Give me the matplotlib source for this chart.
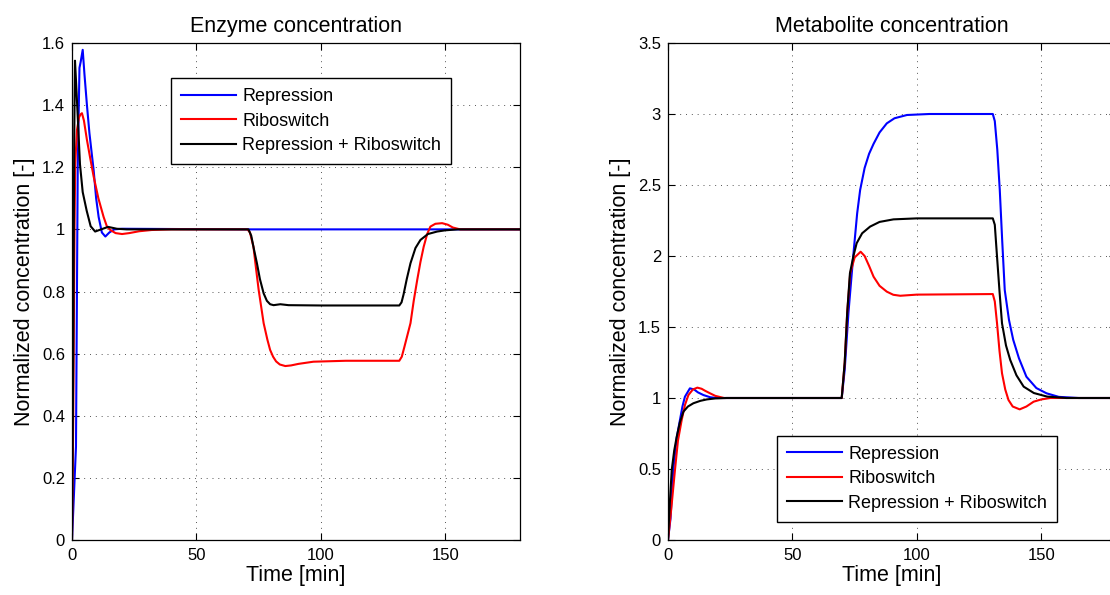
import matplotlib
matplotlib.use('Agg')
import matplotlib.pyplot as plt
from matplotlib.ticker import FuncFormatter

plt.rcParams['font.family'] = ['Liberation Sans', 'DejaVu Sans']

# ---- enzyme concentration (left) ----
enz_rep_t = [0, 1.6, 2.3, 3.0, 3.5, 4.3, 5.0, 6.0, 7.0, 8.7, 9.7, 10.7, 12.0, 13.4, 15.0, 17.0, 20, 70, 130, 180]
enz_rep_y = [0, 0.3, 1.2, 1.52, 1.54, 1.578, 1.50, 1.40, 1.31, 1.19, 1.10, 1.04, 0.99, 0.977, 0.99, 1.0, 1.002, 1.0, 1.0, 1.0]

enz_ribo_t = [0, 0.5, 1.0, 1.3, 2.0, 2.8, 3.4, 4.0, 4.8, 6.0, 7.3, 8.7, 10.6, 12.7, 14.0, 15.4, 17.5, 20.1, 23, 27, 32, 40,
              70.5, 71.5, 72.9, 74, 75, 77, 78.5, 79.6, 80.8, 82, 83.5, 85.7, 88, 91, 97, 110, 131.5,
              132.5, 133.5, 136, 137.3, 138.7, 140, 141.3, 142.7, 144, 146, 148.7, 151, 153, 156, 180]
enz_ribo_y = [0, 0.4, 1.0, 1.21, 1.32, 1.36, 1.37, 1.374, 1.35, 1.288, 1.23, 1.17, 1.10, 1.04, 1.01, 0.998, 0.988, 0.985, 0.988, 0.994, 0.998, 1.0,
              1.0, 0.99, 0.944, 0.87, 0.805, 0.698, 0.645, 0.612, 0.59, 0.575, 0.565, 0.560, 0.562, 0.567, 0.574, 0.577, 0.577,
              0.59, 0.62, 0.698, 0.77, 0.837, 0.895, 0.944, 0.985, 1.009, 1.018, 1.02, 1.015, 1.006, 1.0, 1.0]

enz_both_t = [0, 0.5, 0.9, 1.2, 1.6, 2.2, 3.2, 4.3, 5.9, 7.5, 9.3, 11, 14.5, 18, 22,
              70.9, 72, 73, 74.3, 75.5, 77, 78.3, 79.6, 81, 83.7, 87, 100, 131.5,
              132.4, 133.2, 134.5, 136, 138, 140, 143, 146.7, 150, 155, 180]
enz_both_y = [0, 0.6, 1.3, 1.543, 1.48, 1.38, 1.21, 1.12, 1.06, 1.01, 0.993, 0.998, 1.008, 1.002, 1.0,
              1.0, 0.98, 0.94, 0.891, 0.84, 0.794, 0.77, 0.759, 0.756, 0.759, 0.756, 0.755, 0.755,
              0.765, 0.79, 0.84, 0.891, 0.94, 0.966, 0.985, 0.993, 0.997, 1.0, 1.0]

# ---- metabolite concentration (right) ----
met_rep_t = [0, 1, 2.1, 3.5, 4.8, 5.8, 6.8, 8.8, 10.5, 12, 14.2, 17, 19.6, 69.8,
             71, 72.5, 74.4, 76, 77.2, 79, 80.8, 82.6, 85, 87.9, 91, 96, 105, 130.5,
             131.3, 132.3, 133.3, 134.3, 135.3, 137, 138.7, 141, 144, 148, 152.1, 157, 165, 180]
met_rep_y = [0, 0.15, 0.493, 0.72, 0.845, 0.94, 1.009, 1.068, 1.06, 1.04, 1.021, 1.005, 1.0, 1.0,
             1.2, 1.6, 1.995, 2.3, 2.465, 2.62, 2.72, 2.79, 2.87, 2.934, 2.97, 2.993, 3.0, 3.0,
             2.95, 2.75, 2.465, 2.1, 1.76, 1.55, 1.41, 1.28, 1.15, 1.07, 1.033, 1.008, 1.0, 1.0]

met_ribo_t = [0, 1.2, 2.8, 4, 5.5, 6.8, 8.2, 10, 11.8, 13.5, 15, 16.9, 19, 22.5, 69.8,
              71, 72, 73.2, 75, 77.4, 79, 80.8, 82.6, 85, 87.9, 90.5, 93.3, 100, 130.5,
              131.3, 132.2, 133.2, 134.2, 135.5, 136.8, 138.5, 141.3, 144, 146.9, 150, 153.6, 180]
met_ribo_y = [0, 0.2, 0.493, 0.7, 0.845, 0.95, 1.021, 1.06, 1.073, 1.065, 1.05, 1.033, 1.015, 1.0, 1.0,
              1.25, 1.6, 1.878, 1.99, 2.03, 2.0, 1.93, 1.854, 1.79, 1.749, 1.727, 1.72, 1.728, 1.732,
              1.68, 1.526, 1.33, 1.174, 1.06, 0.986, 0.94, 0.92, 0.94, 0.974, 0.99, 1.0, 1.0]

met_both_t = [0, 0.7, 1.5, 2.5, 3.5, 4.8, 6.2, 8, 10.2, 13, 15.6, 19, 23.6, 69.8,
              71, 72, 73.1, 74.5, 75.8, 78, 81.2, 85, 90.6, 100, 130.5,
              131.3, 132.2, 133.2, 134.2, 135.8, 137.5, 140, 142.9, 147, 152.3, 160, 180]
met_both_y = [0, 0.25, 0.493, 0.63, 0.727, 0.83, 0.904, 0.94, 0.963, 0.98, 0.99, 0.997, 1.0, 1.0,
              1.25, 1.6, 1.878, 2.0, 2.09, 2.16, 2.207, 2.24, 2.258, 2.265, 2.265,
              2.22, 1.995, 1.75, 1.526, 1.37, 1.268, 1.16, 1.08, 1.035, 1.01, 1.0, 1.0]

labels = ['Repression', 'Riboswitch', 'Repression + Riboswitch']
colors = ['#0000ff', '#ff0000', '#000000']

fig = plt.figure(figsize=(11.1, 5.95), dpi=100)
W, H = 1110, 595
ax1 = fig.add_axes([72 / W, 55 / H, 448 / W, 497 / H])
ax2 = fig.add_axes([668 / W, 55 / H, 448 / W, 497 / H])

fmt = FuncFormatter(lambda v, p: '%g' % v)


def style(ax, ymax, ystep, title):
    ax.set_xlim(0, 180)
    ax.set_ylim(0, ymax)
    ax.set_xticks([0, 50, 100, 150])
    ax.set_yticks([i * ystep for i in range(int(round(ymax / ystep)) + 1)])
    ax.xaxis.set_major_formatter(fmt)
    ax.yaxis.set_major_formatter(fmt)
    ax.tick_params(direction='in', top=True, right=True, length=5, width=0.8, labelsize=12, pad=5)
    ax.tick_params(axis='x', pad=6)
    ax.grid(True, color='#555555', linestyle=(0, (1, 5)), linewidth=0.7)
    for s in ax.spines.values():
        s.set_linewidth(0.9)
    ax.set_title(title, fontsize=15.5, pad=8)
    ax.set_xlabel('Time [min]', fontsize=15.5, labelpad=1)
    ax.set_ylabel('Normalized concentration [-]', fontsize=15.5, labelpad=5)


def legend(ax, anchor, loc):
    leg = ax.legend(loc=loc, bbox_to_anchor=anchor, borderaxespad=0,
                    fontsize=13, handlelength=3.05, handletextpad=0.35, fancybox=False, framealpha=1,
                    edgecolor='black', borderpad=0.55, labelspacing=0.42)
    leg.get_frame().set_linewidth(1.0)


for t, y, c, lab in zip([enz_rep_t, enz_ribo_t, enz_both_t], [enz_rep_y, enz_ribo_y, enz_both_y], colors, labels):
    ax1.plot(t, y, color=c, lw=1.5, label=lab)
style(ax1, 1.6, 0.2, 'Enzyme concentration')
legend(ax1, (0.221, 0.929), 'upper left')

for t, y, c, lab in zip([met_rep_t, met_ribo_t, met_both_t], [met_rep_y, met_ribo_y, met_both_y], colors, labels):
    ax2.plot(t, y, color=c, lw=1.5, label=lab)
style(ax2, 3.5, 0.5, 'Metabolite concentration')
legend(ax2, (0.2426, 0.037), 'lower left')

fig.savefig('out.png', dpi=100)
